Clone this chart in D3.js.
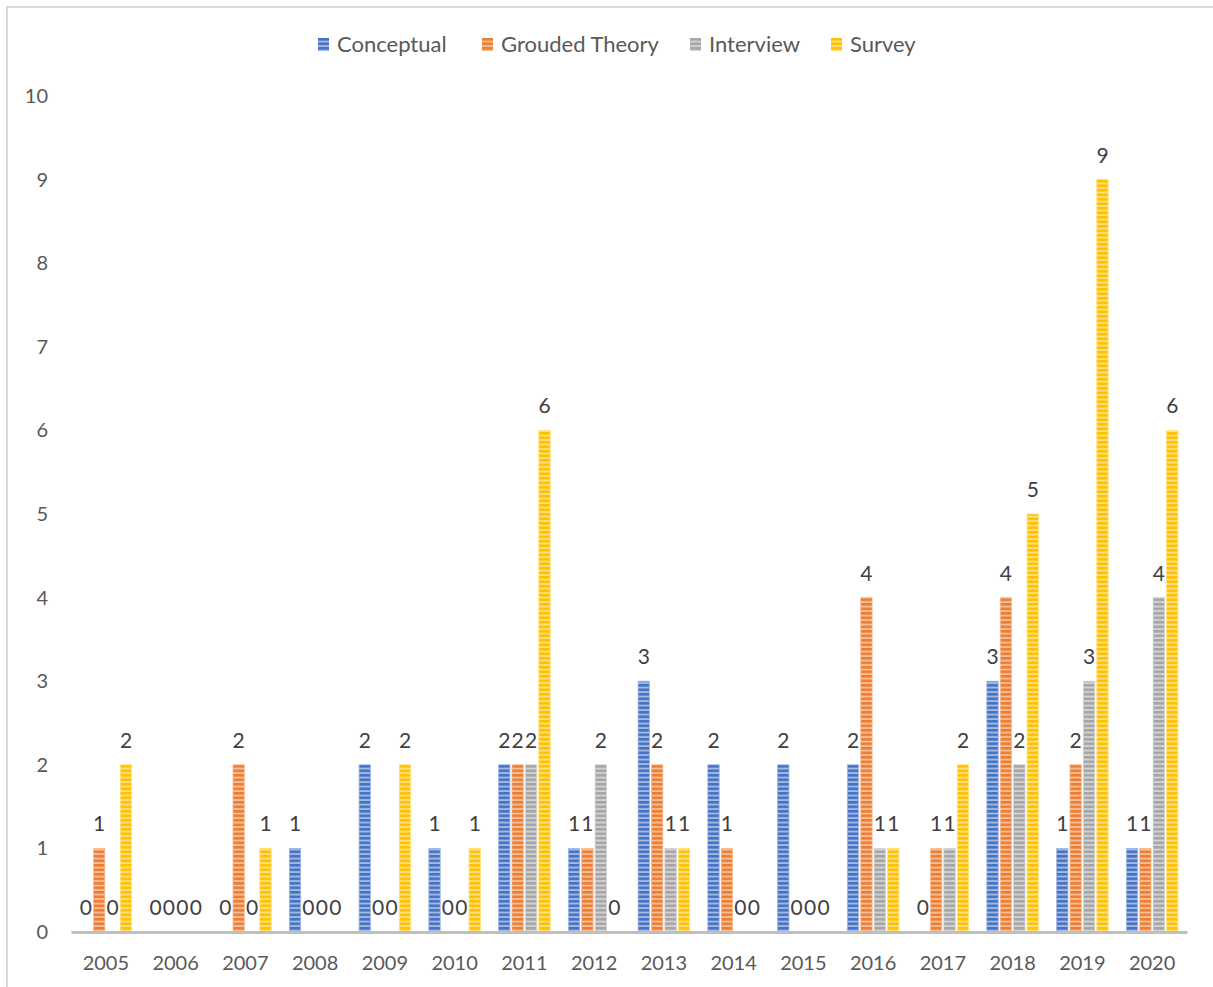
<!DOCTYPE html>
<html>
<head>
<meta charset="utf-8">
<script src="https://cdn.jsdelivr.net/npm/d3@7/dist/d3.min.js"></script>
<style>
  html, body { margin: 0; padding: 0; background: #fff; }
  svg { display: block; font-family: Lato, "Open Sans", sans-serif; }
</style>
</head>
<body>
<svg id="chart" width="1213" height="987"></svg>
<script>
// Publications per year by research method
const years = ["2005","2006","2007","2008","2009","2010","2011","2012","2013","2014","2015","2016","2017","2018","2019","2020"];
const seriesNames = ["Conceptual", "Grouded Theory", "Interview", "Survey"];
const conceptual = [0,0,0,1,2,1,2,1,3,2,2,2,0,3,1,1];
const groundedTheory = [1,0,2,0,0,0,2,1,2,1,0,4,1,4,2,1];
const interview = [0,0,0,0,0,0,2,2,1,0,0,1,1,2,3,4];
const survey = [2,0,1,0,2,1,6,0,1,0,0,1,2,5,9,6];
const yTicks = [0,1,2,3,4,5,6,7,8,9,10];
const colors = ["#4472C4", "#ED7D31", "#A5A5A5", "#FFC000"];

const seriesValues = [conceptual, groundedTheory, interview, survey];

const svg = d3.select("#chart");

// outer frame
svg.append("path")
  .attr("d", "M7,990 L7,7 L1220,7")
  .attr("fill", "none")
  .attr("stroke", "#d9d9d9")
  .attr("stroke-width", 2);

// striped fills
const defs = svg.append("defs");
colors.forEach((c, i) => {
  const light = d3.interpolateRgb(c, "#ffffff")(0.5);
  const p = defs.append("pattern")
    .attr("id", "stripe" + i)
    .attr("patternUnits", "userSpaceOnUse")
    .attr("width", 8)
    .attr("height", 4.5);
  p.append("rect").attr("width", 8).attr("height", 4.5).attr("fill", c);
  p.append("rect").attr("y", 2.6).attr("width", 8).attr("height", 1.9).attr("fill", light);
});

const x = d3.scaleBand().domain(years).range([71, 1187]).paddingInner(0).paddingOuter(0);
const x1 = d3.scaleBand().domain(seriesNames)
  .range([x.bandwidth() * 0.13, x.bandwidth() * 0.87])
  .paddingInner(0.15);
const y = d3.scaleLinear().domain([0, 10]).range([932, 96]);

// y tick labels
const yAxis = svg.append("g").attr("transform", "translate(48,0)")
  .call(d3.axisLeft(y).tickValues(yTicks).tickSize(0).tickPadding(0).tickFormat(d3.format("d")));
yAxis.select(".domain").remove();
yAxis.selectAll("text")
  .attr("font-size", 20)
  .attr("fill", "#595959")
  .attr("font-family", "Lato, 'Open Sans', sans-serif");

// bars and value labels
const groups = svg.append("g").selectAll("g")
  .data(years)
  .join("g")
  .attr("transform", d => `translate(${x(d)},0)`);

seriesNames.forEach((name, si) => {
  const vals = seriesValues[si];
  groups.append("rect")
    .attr("x", x1(name))
    .attr("width", x1.bandwidth())
    .attr("y", (d, i) => y(vals[i]))
    .attr("height", (d, i) => y(0) - y(vals[i]))
    .attr("fill", `url(#stripe${si})`)
    .attr("stroke", d3.interpolateRgb(colors[si], "#ffffff")(0.5))
    .attr("stroke-width", 0.8);
  groups.append("text")
    .attr("x", x1(name) + x1.bandwidth() / 2)
    .attr("y", (d, i) => y(vals[i]) - 17)
    .attr("text-anchor", "middle")
    .attr("font-size", 21)
    .attr("fill", "#404040")
    .text((d, i) => vals[i]);
});

// x axis
const xAxis = svg.append("g").attr("transform", "translate(0,932)")
  .call(d3.axisBottom(x).tickSize(0).tickPadding(24));
xAxis.select(".domain").attr("stroke", "#bfbfbf").attr("stroke-width", 3);
xAxis.selectAll("text")
  .attr("font-size", 20)
  .attr("fill", "#595959")
  .attr("font-family", "Lato, 'Open Sans', sans-serif");

// legend
const legendX = [318, 482, 690, 831];
const legend = svg.append("g");
seriesNames.forEach((name, i) => {
  const g = legend.append("g").attr("transform", `translate(${legendX[i]},38)`);
  g.append("rect").attr("width", 11).attr("height", 13).attr("fill", `url(#stripe${i})`);
  g.append("text").attr("x", 19).attr("y", 14)
    .attr("font-size", 22).attr("fill", "#595959").text(name);
});
</script>
</body>
</html>
